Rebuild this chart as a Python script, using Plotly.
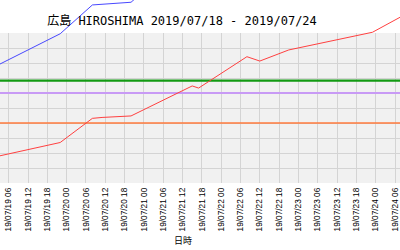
import plotly.graph_objects as go

# ---- data ----
title_text = "広島 HIROSHIMA 2019/07/18 - 2019/07/24"
x_title = "日時"

red_times = ["2019-07-19 03:00", "2019-07-19 22:00", "2019-07-20 08:00", "2019-07-20 11:00",
             "2019-07-20 20:00", "2019-07-21 15:00", "2019-07-21 17:00", "2019-07-22 08:00",
             "2019-07-22 12:00", "2019-07-22 21:00", "2019-07-23 23:00", "2019-07-24 08:00"]
red_values = [18.0, 27.0, 43.1, 43.7, 44.7, 64.7, 63.3, 84.2, 81.3, 88.7, 100.5, 111.0]

blue_times = ["2019-07-19 03:00", "2019-07-19 22:00", "2019-07-20 08:00", "2019-07-20 20:00",
              "2019-07-21 00:00"]
blue_values = [79.0, 99.5, 118.7, 120.5, 128.0]

green_level = 68.3
purple_level = 60.0
orange_level = 40.0

x_range = ["2019-07-19 03:18", "2019-07-24 07:33"]
grid_vals = [0, 10, 20, 30, 40, 50, 60, 70, 80, 90, 100]

fig = go.Figure()

# threshold lines (span the x range)
for lvl, col, w in [(orange_level, "#ff7a3c", 1.6), (purple_level, "#c89af5", 2.2),
                    (green_level, "#129a12", 2.2)]:
    fig.add_trace(go.Scatter(x=x_range, y=[lvl, lvl], mode="lines",
                             line=dict(color=col, width=w), xaxis="x2", yaxis="y2",
                             hoverinfo="skip", showlegend=False))

fig.add_trace(go.Scatter(x=blue_times, y=blue_values, mode="lines",
                         line=dict(color="#4848ff", width=1), xaxis="x2", yaxis="y2",
                         showlegend=False))
fig.add_trace(go.Scatter(x=red_times, y=red_values, mode="lines",
                         line=dict(color="#ff4040", width=1), xaxis="x2", yaxis="y2",
                         showlegend=False))

# dummy trace to make the grid subplot exist
fig.add_trace(go.Scatter(x=x_range, y=[None, None], mode="lines", xaxis="x", yaxis="y",
                         showlegend=False, hoverinfo="skip"))

fig.update_layout(
    width=400, height=250,
    margin=dict(l=0, r=0, t=0, b=67),
    paper_bgcolor="white",
    plot_bgcolor="rgba(0,0,0,0)",
    showlegend=False,
    title=dict(text=title_text, x=0.455, xanchor="center", xref="container",
               y=1 - 20.5 / 250, yanchor="middle", yref="container",
               font=dict(family="DejaVu Sans Mono, Noto Sans CJK JP", size=12, color="black")),
    xaxis=dict(domain=[0, 1], anchor="y", range=x_range, type="date",
               tick0="2019-07-19 00:00", dtick=6 * 3600 * 1000,
               tickformat="%y/%m/%d %H", tickangle=-90, ticklabelstandoff=2,
               tickfont=dict(family="Liberation Sans, Arial", size=8.3, color="black"),
               showgrid=True, gridcolor="#d4d4d4", gridwidth=1,
               ticks="", showline=False, zeroline=False),
    yaxis=dict(domain=[0, 150 / 183], anchor="x", range=[0, 100],
               tickmode="array", tickvals=grid_vals, showticklabels=False,
               showgrid=True, gridcolor="#d4d4d4", gridwidth=1,
               ticks="", showline=False, zeroline=False),
    xaxis2=dict(domain=[0, 1], anchor="y2", range=x_range, type="date", matches="x",
                visible=False),
    yaxis2=dict(domain=[0, 1], anchor="x2", range=[0, 122], visible=False),
    shapes=[dict(type="rect", xref="x domain", yref="y domain", x0=0, x1=1, y0=0, y1=1,
                 layer="below", fillcolor="#f1f1f1", line=dict(width=0))],
    annotations=[dict(text=x_title, xref="paper", yref="paper", x=183 / 400, y=-57 / 183,
                      xanchor="center", yanchor="middle", showarrow=False,
                      font=dict(family="Noto Sans CJK JP", size=9, color="black"))],
)

fig.write_html("out.html")
